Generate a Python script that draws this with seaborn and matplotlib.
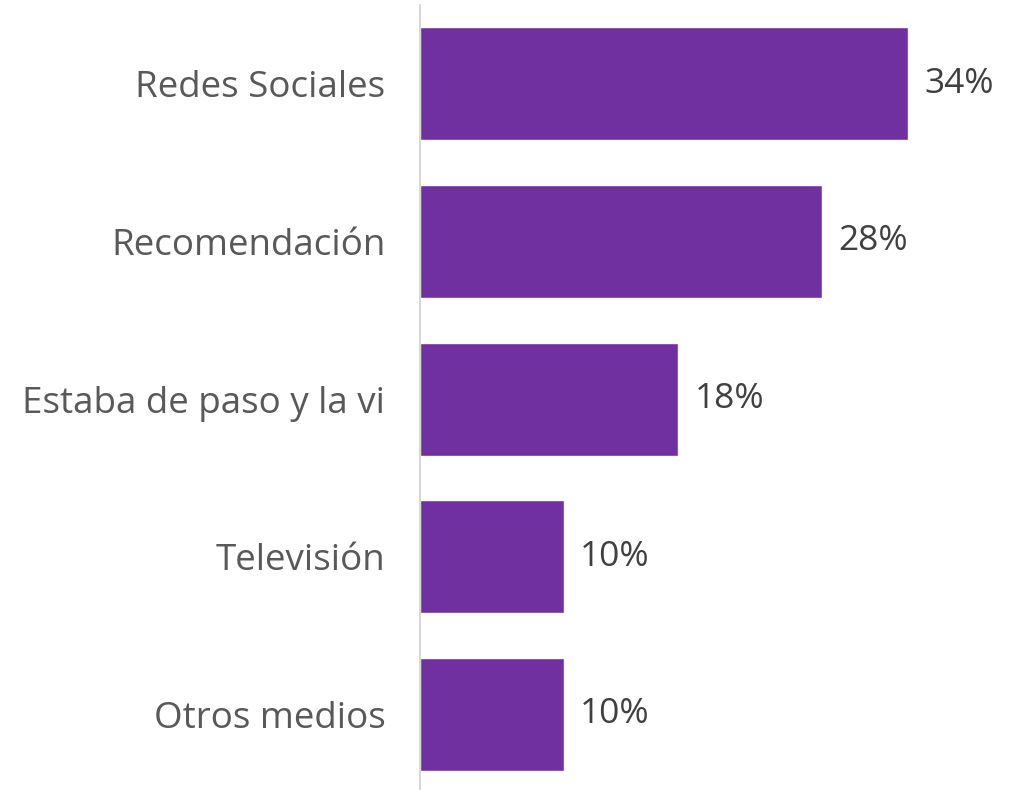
import matplotlib
matplotlib.use("Agg")
import matplotlib.pyplot as plt
import seaborn as sns
import pandas as pd

# data
categorias = ["Redes Sociales", "Recomendación", "Estaba de paso y la vi", "Televisión", "Otros medios"]
valores = [34, 28, 18, 10, 10]

df = pd.DataFrame({"categoria": categorias, "valor": valores})

sns.set_style("white")
plt.rcParams['font.family'] = ['Open Sans', 'DejaVu Sans']

fig = plt.figure(figsize=(10.16, 7.9), dpi=100)
ax = fig.add_axes([420/1016, 0.0, 1 - 420/1016, (790-5)/790])

sns.barplot(data=df, x="valor", y="categoria", color="#7030A0", saturation=1,
            width=0.716, ax=ax)

ax.set_xlim(0, 596/14.35)
ax.set_ylim(4.48, -0.5)
ax.set_xlabel("")
ax.set_ylabel("")
ax.set_xticks([])
for s in ["top", "right", "bottom"]:
    ax.spines[s].set_visible(False)
ax.spines["left"].set_color("#D0D0D0")
ax.spines["left"].set_linewidth(1.2)
ax.tick_params(axis="y", length=0, pad=25, labelsize=26.5, labelcolor="#595959")

# etiquetas de valor
for i, v in enumerate(valores):
    ax.annotate(str(v) + "%", (v, i), xytext=(12, 0), textcoords="offset points",
                va="center", ha="left", fontsize=25.5, color="#404040")

plt.savefig("out.png", dpi=100)
